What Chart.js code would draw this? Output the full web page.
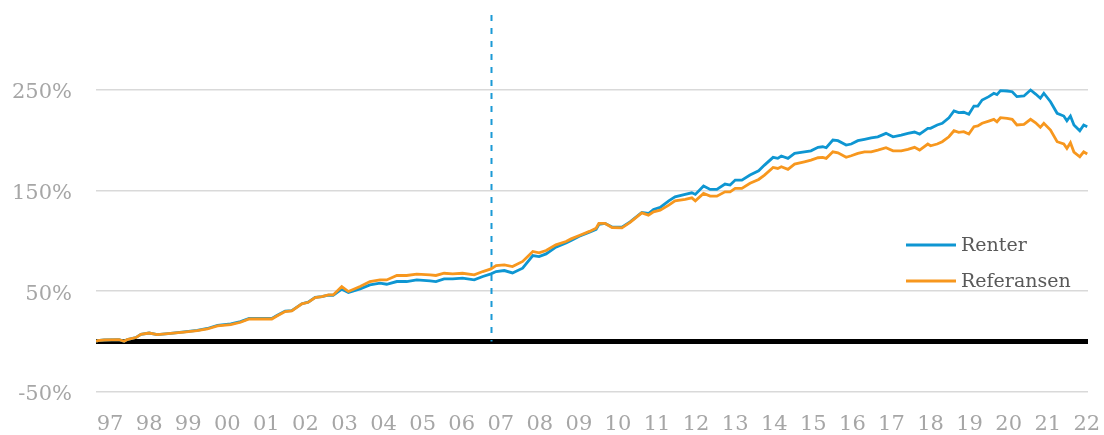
<!DOCTYPE html>
<html>
<head>
<meta charset="utf-8">
<script src="https://cdn.jsdelivr.net/npm/chart.js@4.4.1/dist/chart.umd.min.js"></script>
<style>
  html, body { margin: 0; padding: 0; background: #ffffff; }
  #wrap { width: 1104px; height: 435px; position: relative; }
</style>
</head>
<body>
<div id="wrap"><canvas id="c" width="1104" height="435"></canvas></div>
<script>
// Decimal year of each observation
const dates = [
  1996.64, 1996.68, 1996.85, 1997.23, 1997.36, 1997.44, 1997.66, 1997.79, 1998.00, 1998.21,
  1998.55, 1998.89, 1999.23, 1999.49, 1999.75, 2000.09, 2000.34, 2000.56, 2000.86, 2001.14,
  2001.27, 2001.48, 2001.65, 2001.91, 2002.07, 2002.25, 2002.42, 2002.59, 2002.71, 2002.93,
  2003.10, 2003.40, 2003.65, 2003.91, 2004.08, 2004.34, 2004.59, 2004.85, 2005.19, 2005.34,
  2005.55, 2005.77, 2006.02, 2006.32, 2006.54, 2006.75, 2006.88, 2007.09, 2007.30, 2007.56,
  2007.82, 2007.98, 2008.16, 2008.41, 2008.67, 2008.80, 2009.01, 2009.27, 2009.44, 2009.51,
  2009.67, 2009.85, 2010.10, 2010.31, 2010.61, 2010.78, 2010.91, 2011.08, 2011.30, 2011.46,
  2011.72, 2011.89, 2011.98, 2012.19, 2012.36, 2012.53, 2012.74, 2012.87, 2013.00, 2013.17,
  2013.38, 2013.60, 2013.75, 2013.97, 2014.09, 2014.18, 2014.35, 2014.52, 2014.77, 2014.94,
  2015.12, 2015.24, 2015.33, 2015.50, 2015.63, 2015.84, 2015.97, 2016.14, 2016.31, 2016.48,
  2016.65, 2016.86, 2017.04, 2017.25, 2017.42, 2017.59, 2017.72, 2017.93, 2018.00, 2018.17,
  2018.30, 2018.47, 2018.60, 2018.72, 2018.85, 2018.98, 2019.11, 2019.21, 2019.32, 2019.49,
  2019.62, 2019.70, 2019.79, 2019.96, 2020.09, 2020.21, 2020.39, 2020.56, 2020.69, 2020.81,
  2020.90, 2021.07, 2021.24, 2021.41, 2021.49, 2021.58, 2021.67, 2021.82, 2021.92, 2022.01
];

// Cumulative return, % — "Renter"
const renter = [
  0, 1.0, 1.6, 2.0, 0.3, 2.0, 4.0, 7.3, 8.5, 7.0,
  8.2, 9.6, 11.2, 13.0, 16.2, 17.5, 19.8, 23.0, 23.0, 23.0,
  25.8, 30.3, 30.8, 37.6, 39.2, 43.8, 44.7, 46.0, 46.0, 52.0,
  48.7, 52.3, 56.2, 57.9, 56.9, 59.6, 59.6, 61.2, 60.2, 59.6,
  62.2, 62.2, 62.9, 61.2, 64.6, 67.2, 69.5, 70.5, 68.1, 72.8,
  85.4, 84.4, 87.0, 93.7, 97.9, 100.3, 104.6, 108.6, 111.3, 116.2,
  117.2, 113.8, 113.5, 118.8, 128.1, 127.1, 131.1, 133.1, 139.7, 143.6,
  146.0, 147.6, 146.0, 154.3, 151.0, 151.0, 156.3, 155.3, 160.2, 160.2,
  165.2, 169.5, 175.1, 182.8, 181.8, 184.1, 181.8, 186.7, 188.3, 189.3,
  192.7, 193.3, 192.3, 200.0, 199.3, 195.0, 196.0, 199.3, 200.7, 202.2,
  203.2, 206.6, 203.2, 204.9, 206.6, 207.9, 205.9, 211.6, 211.6, 214.9,
  216.6, 222.1, 228.8, 227.1, 227.5, 225.5, 233.7, 233.7, 239.7, 243.0,
  246.4, 245.0, 249.0, 248.6, 247.9, 243.0, 243.7, 249.6, 245.6, 241.4,
  246.4, 238.0, 226.5, 223.8, 219.1, 223.8, 214.9, 209.2, 214.9, 213.2
];

// Cumulative return, % — "Referansen"
const referansen = [
  0, 1.0, 1.6, 2.0, 0.3, 2.0, 4.0, 7.3, 8.5, 7.0,
  8.2, 9.5, 10.9, 12.5, 15.5, 16.9, 19.2, 22.4, 22.4, 22.4,
  25.4, 29.8, 30.4, 37.4, 39.0, 43.7, 44.7, 46.3, 46.3, 54.6,
  49.7, 54.6, 59.6, 61.2, 61.2, 65.6, 65.6, 66.9, 66.2, 65.6,
  67.8, 67.2, 67.8, 66.2, 69.5, 72.1, 75.5, 76.1, 74.5, 79.5,
  89.4, 88.0, 90.4, 96.0, 99.3, 101.9, 105.3, 109.3, 112.5, 117.2,
  117.2, 113.2, 112.8, 118.2, 127.7, 125.5, 128.7, 130.4, 135.4, 139.7,
  141.1, 142.6, 139.7, 147.0, 144.3, 144.3, 148.6, 148.6, 152.0, 152.0,
  157.0, 160.9, 165.2, 172.8, 171.8, 173.4, 170.9, 176.1, 178.4, 180.1,
  182.4, 182.8, 181.8, 188.3, 187.3, 182.8, 184.4, 186.7, 188.3, 188.3,
  190.0, 192.3, 189.3, 189.3, 190.7, 192.7, 190.0, 196.0, 194.3, 196.0,
  198.3, 203.2, 209.2, 207.6, 208.2, 205.9, 213.2, 213.9, 216.6, 218.8,
  220.5, 218.1, 222.1, 221.5, 220.5, 214.9, 215.6, 220.5, 217.1, 212.6,
  216.6, 209.9, 198.3, 196.0, 191.7, 197.3, 188.0, 183.4, 188.3, 186.1
];

// Axis tick values
const yearTicks = [];
for (let y = 1997; y <= 2022; y++) yearTicks.push(y);
const yTicks = [-50, 50, 150, 250];
const markerYear = 2006.75;   // vertical dashed marker
const xMin = 1996.64, xMax = 2022.03;
const yMin = -50, yMax = 325;

const FONT = "Georgia, 'DejaVu Serif', serif";

const toPts = (arr) => arr.map((v, i) => ({ x: dates[i], y: v }));

const overlay = {
  id: 'overlay',
  beforeDatasetsDraw(chart) {
    const { ctx, chartArea, scales } = chart;
    const y0 = scales.y.getPixelForValue(0);
    ctx.save();
    // zero line
    ctx.strokeStyle = '#000000';
    ctx.lineWidth = 5;
    ctx.beginPath();
    ctx.moveTo(chartArea.left, y0);
    ctx.lineTo(chartArea.right, y0);
    ctx.stroke();
    // dashed marker
    const xm = Math.round(scales.x.getPixelForValue(markerYear)) + 0.5;
    ctx.strokeStyle = '#1B9AD6';
    ctx.lineWidth = 2;
    ctx.setLineDash([6, 7]);
    ctx.beginPath();
    ctx.moveTo(xm, chartArea.top + 1);
    ctx.lineTo(xm, y0);
    ctx.stroke();
    ctx.restore();
  },
  afterDraw(chart) {
    const { ctx, chartArea } = chart;
    ctx.save();
    ctx.font = '19px ' + FONT;
    ctx.textBaseline = 'middle';
    ctx.textAlign = 'left';
    chart.data.datasets.forEach((ds, i) => {
      const y = chartArea.top + 231 + i * 36;
      const x0 = chartArea.right - 182;
      ctx.strokeStyle = ds.borderColor;
      ctx.lineWidth = 2.8;
      ctx.setLineDash([]);
      ctx.beginPath();
      ctx.moveTo(x0, y);
      ctx.lineTo(x0 + 50, y);
      ctx.stroke();
      ctx.fillStyle = '#595959';
      ctx.fillText(ds.label, x0 + 55, y + 1);
    });
    ctx.restore();
  }
};

new Chart(document.getElementById('c'), {
  type: 'line',
  data: {
    datasets: [
      { label: 'Renter', data: toPts(renter), borderColor: '#0E96D2', borderWidth: 2.8,
        pointRadius: 0, tension: 0, fill: false, order: 1 },
      { label: 'Referansen', data: toPts(referansen), borderColor: '#F7971E', borderWidth: 2.8,
        pointRadius: 0, tension: 0, fill: false, order: 0 }
    ]
  },
  options: {
    responsive: false,
    animation: false,
    events: [],
    layout: { padding: { left: 0, right: 16, top: 14, bottom: 0 } },
    plugins: { legend: { display: false }, tooltip: { enabled: false } },
    scales: {
      x: {
        type: 'linear', min: xMin, max: xMax,
        afterBuildTicks(s) { s.ticks = yearTicks.map(v => ({ value: v })); },
        afterFit(s) { s.height = 43; s.paddingLeft = 0; s.paddingRight = 0; },
        grid: { display: false, drawTicks: false },
        border: { display: false },
        ticks: {
          autoSkip: false, maxRotation: 0, padding: 20,
          color: '#A6A6A6', font: { family: FONT, size: 21 },
          callback: (v) => String(Math.round(v) % 100).padStart(2, '0')
        }
      },
      y: {
        min: yMin, max: yMax,
        afterBuildTicks(s) { s.ticks = yTicks.map(v => ({ value: v })); },
        afterFit(s) { s.width = 96; s.paddingTop = 0; s.paddingBottom = 0; },
        grid: { color: '#D9D9D9', lineWidth: 1.5, drawTicks: false },
        border: { display: false },
        ticks: {
          padding: 24, labelOffset: 3, color: '#A6A6A6', font: { family: FONT, size: 21 },
          callback: (v) => v + '%'
        }
      }
    }
  },
  plugins: [overlay]
});
</script>
</body>
</html>
